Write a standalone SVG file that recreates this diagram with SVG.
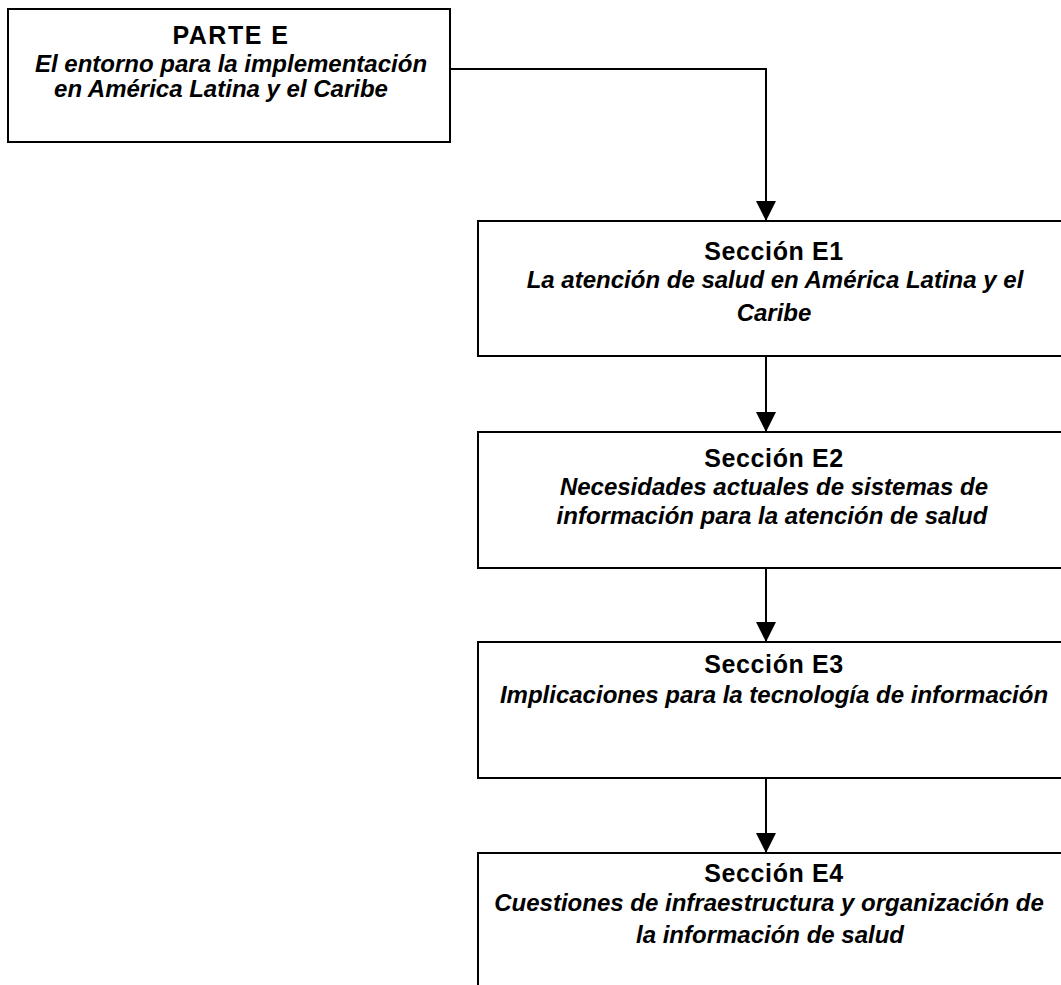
<svg xmlns="http://www.w3.org/2000/svg" width="1061" height="985" viewBox="0 0 1061 985">
  <style>
    .box { fill: #ffffff; stroke: #000000; stroke-width: 2; }
    .link { fill: none; stroke: #000000; stroke-width: 2; }
    .head { font-family: "Liberation Sans", Arial, sans-serif; font-weight: bold; font-size: 25px; fill: #000000; text-anchor: middle; letter-spacing: 0.6px; }
    .sub { font-family: "Liberation Sans", Arial, sans-serif; font-weight: bold; font-style: italic; font-size: 24px; fill: #000000; text-anchor: middle; }
  </style>
  <defs>
    <marker id="arrow" markerUnits="userSpaceOnUse" markerWidth="20" markerHeight="20" viewBox="0 0 20 20" refX="20" refY="10" orient="auto">
      <path d="M0,0 L20,10 L0,20 Z" fill="#000000"/>
    </marker>
  </defs>

  <rect width="1061" height="985" fill="#ffffff"/>

  <!-- connectors -->
  <g id="connectors">
    <path class="link" d="M450,69 H766 V221" marker-end="url(#arrow)"/>
    <path class="link" d="M766,356 V432" marker-end="url(#arrow)"/>
    <path class="link" d="M766,568 V642" marker-end="url(#arrow)"/>
    <path class="link" d="M766,778 V853" marker-end="url(#arrow)"/>
  </g>

  <!-- part header -->
  <g id="parte-e">
    <rect class="box" x="8" y="9" width="442" height="133"/>
    <text class="head" x="231" y="44" style="letter-spacing:1.5px">PARTE E</text>
    <text class="sub" x="231" y="72">El entorno para la implementación</text>
    <text class="sub" x="221" y="97">en América Latina y el Caribe</text>
  </g>

  <g id="seccion-e1">
    <rect class="box" x="478" y="221" width="600" height="135"/>
    <text class="head" x="774" y="260">Sección E1</text>
    <text class="sub" x="775" y="288">La atención de salud en América Latina y el</text>
    <text class="sub" x="774" y="321">Caribe</text>
  </g>

  <g id="seccion-e2">
    <rect class="box" x="478" y="432" width="600" height="136"/>
    <text class="head" x="774" y="467">Sección E2</text>
    <text class="sub" x="774" y="495">Necesidades actuales de sistemas de</text>
    <text class="sub" x="772" y="524">información para la atención de salud</text>
  </g>

  <g id="seccion-e3">
    <rect class="box" x="478" y="642" width="600" height="136"/>
    <text class="head" x="774" y="673">Sección E3</text>
    <text class="sub" x="774" y="703">Implicaciones para la tecnología de información</text>
  </g>

  <g id="seccion-e4">
    <rect class="box" x="478" y="853" width="600" height="160"/>
    <text class="head" x="774" y="882">Sección E4</text>
    <text class="sub" x="769" y="911">Cuestiones de infraestructura y organización de</text>
    <text class="sub" x="770" y="943">la información de salud</text>
  </g>
</svg>
